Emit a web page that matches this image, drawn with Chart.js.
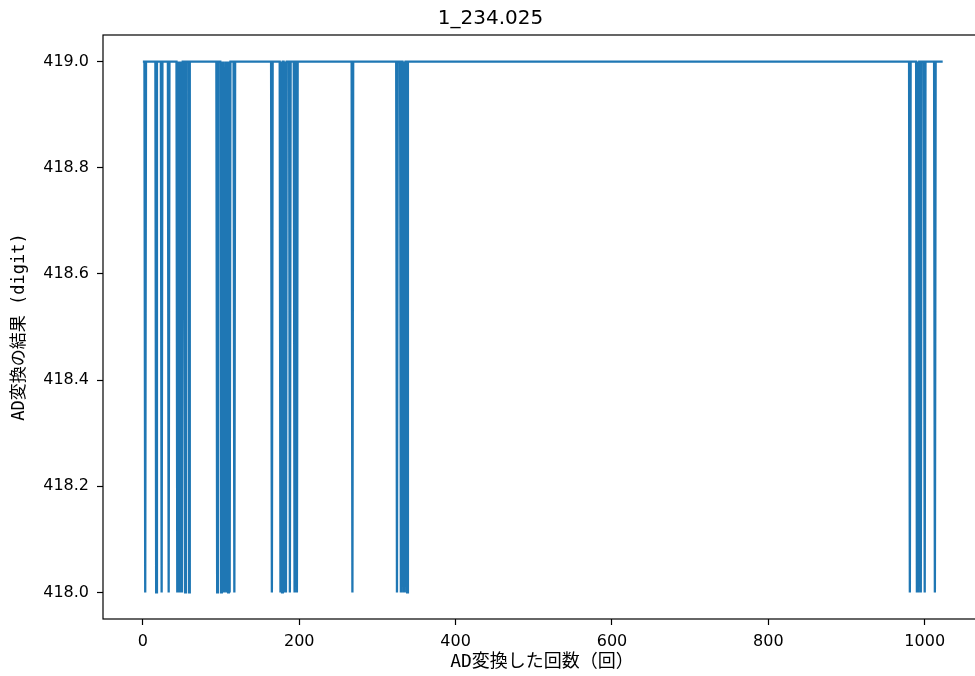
<!DOCTYPE html>
<html>
<head>
<meta charset="utf-8">
<script src="https://cdn.jsdelivr.net/npm/chart.js@4/dist/chart.umd.min.js"></script>
<style>
  html, body { margin: 0; padding: 0; background: #fff; overflow: hidden; }
  canvas { display: block; }
</style>
</head>
<body>
<canvas id="adChart" width="990" height="676"></canvas>
<script>
const TITLE = '1_234.025';
const X_LABEL = 'AD変換した回数（回）';
const Y_LABEL = 'AD変換の結果 (digit)';

// readings: the value sits at 419 except at these sample numbers, where it drops to 418
const lastSample = 1023;
const highLevel = 419;
const lowLevel = 418;
const lowSamples = [
  3, 17, 24, 33, 44, 46, 48, 50, 54, 59,
  95, 100, 102, 104, 105, 107, 109, 111, 117,
  165, 176, 178, 181, 183, 188, 194, 197,
  268, 325, 330, 333, 335, 338,
  981, 990, 992, 995, 1000, 1013
];

const xTicks = [0, 200, 400, 600, 800, 1000];
const yTicks = [418.0, 418.2, 418.4, 418.6, 418.8, 419.0];

const LINE = '#1f77b4';
const TICK_FONT = { family: "'DejaVu Sans', sans-serif", size: 16 };
const LABEL_FAMILY = "'DejaVu Sans Mono', 'Noto Sans CJK JP', monospace";

// polyline vertices: flat at 419, a V (or flat bottom) at each low sample
function buildPoints() {
  const low = new Set(lowSamples);
  const pts = [{ x: 0, y: low.has(0) ? lowLevel : highLevel }];
  const keep = new Set([0, lastSample]);
  lowSamples.forEach(i => { keep.add(i - 1); keep.add(i); keep.add(i + 1); });
  [...keep].filter(i => i > 0 && i <= lastSample).sort((a, b) => a - b)
    .forEach(i => pts.push({ x: i, y: low.has(i) ? lowLevel : highLevel }));
  return pts;
}

const frame = {
  id: 'frame',
  afterDraw(chart) {
    const { ctx, chartArea: { left, top, right, bottom } } = chart;
    ctx.save();
    ctx.strokeStyle = '#000';
    ctx.lineWidth = 1.2;
    ctx.strokeRect(left, top, right - left, bottom - top);
    ctx.restore();
  }
};

new Chart(document.getElementById('adChart'), {
  type: 'line',
  data: {
    datasets: [{
      data: buildPoints(),
      borderColor: LINE,
      borderWidth: 2.3,
      pointRadius: 0,
      tension: 0,
      fill: false,
    }]
  },
  options: {
    responsive: false,
    animation: false,
    devicePixelRatio: 1,
    layout: { padding: { left: 0, top: 0, right: 9, bottom: 0 } },
    plugins: {
      legend: { display: false },
      tooltip: { enabled: false },
      title: {
        display: true,
        text: TITLE,
        color: '#000',
        font: { family: "'DejaVu Sans', sans-serif", size: 20, weight: 'normal' },
        padding: { top: 7, bottom: 4 },
      },
    },
    scales: {
      x: {
        type: 'linear',
        min: -51,
        max: 1072,
        afterBuildTicks: s => { s.ticks = xTicks.map(v => ({ value: v })); },
        afterFit: s => { s.height = 57; },
        border: { display: false },
        grid: { drawOnChartArea: false, drawTicks: true, tickLength: 6, tickColor: '#000', tickWidth: 1.2 },
        ticks: { color: '#000', font: TICK_FONT, padding: 7, maxRotation: 0, callback: v => String(v) },
        title: { display: true, text: X_LABEL, color: '#000', font: { family: LABEL_FAMILY, size: 18 }, padding: { top: 0, bottom: 3 } },
      },
      y: {
        type: 'linear',
        min: 417.95,
        max: 419.05,
        afterBuildTicks: s => { s.ticks = yTicks.map(v => ({ value: v })); },
        afterFit: s => { s.width = 103; },
        border: { display: false },
        grid: { drawOnChartArea: false, drawTicks: true, tickLength: 6, tickColor: '#000', tickWidth: 1.2 },
        ticks: { color: '#000', font: TICK_FONT, padding: 8, callback: v => v.toFixed(1) },
        title: { display: true, text: Y_LABEL, color: '#000', font: { family: LABEL_FAMILY, size: 17 }, padding: { top: 9, bottom: 0 } },
      }
    }
  },
  plugins: [frame]
});
</script>
</body>
</html>
